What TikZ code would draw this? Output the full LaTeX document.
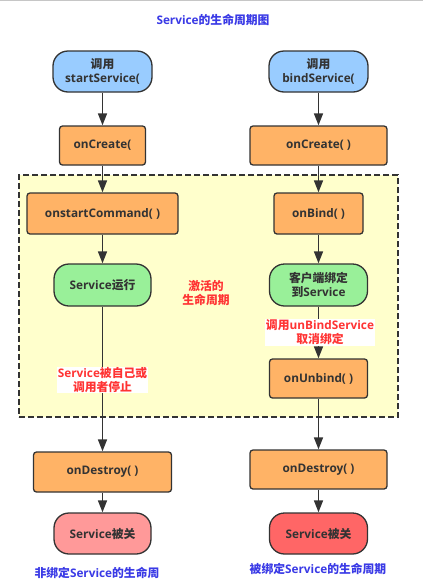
\documentclass[tikz,border=0pt]{standalone}
\usepackage{fontspec}
\setmainfont{Open Sans}[BoldFont=* Bold]
\newfontfamily\cjk{Noto Sans CJK SC Bold}
\usetikzlibrary{arrows.meta}
\definecolor{ink}{HTML}{333333}
\definecolor{blueF}{HTML}{99CCFF}
\definecolor{orangeF}{HTML}{FFB366}
\definecolor{greenF}{HTML}{99F099}
\definecolor{pinkF}{HTML}{FF9999}
\definecolor{redF}{HTML}{FF6666}
\definecolor{yellowF}{HTML}{FFFFCC}
\definecolor{redT}{HTML}{FF3333}
\definecolor{blueT}{HTML}{3A3AE6}
\newcommand\zh[1]{{\cjk #1}}
\begin{document}
\begin{tikzpicture}[x=1pt,y=-1pt,
  txt/.style={font=\bfseries\fontsize{11.8}{14.5}\selectfont, align=center, inner sep=0pt},
  box/.style={txt, draw=ink, text=ink, line width=1.3pt, rounded corners=3pt, fill=orangeF},
  pill/.style={box, rounded corners=15pt},
  conn/.style={draw=ink, line width=1.7pt, -{Triangle[length=12pt,width=9pt]}},
  redlab/.style={txt, text=redT, fill=white},
  bluelab/.style={txt, text=blueT}]
\useasboundingbox (0,0) rectangle (423,587);
\fill[white] (0,0) rectangle (423,587);
\draw[gray!45, line width=1pt] (0,0.5) -- (423,0.5);
\node[bluelab] (title) at (213,20) {Service\zh{的生命周期图}};
\node[draw=ink, fill=yellowF, line width=1.3pt, dash pattern=on 6pt off 3pt,
  minimum width=379pt, minimum height=242pt, inner sep=0pt] (active) at (208.5,296) {};
% left column
\node[pill, fill=blueF, minimum width=99pt, minimum height=41pt] (start) at (102.5,71.5) {\zh{调用}\\startService(};
\node[box, minimum width=86pt, minimum height=39pt] (onC1) at (102.5,145.5) {onCreate(};
\node[box, minimum width=151pt, minimum height=41pt] (osc) at (102.5,213.5) {onstartCommand( )};
\node[pill, fill=greenF, minimum width=97pt, minimum height=42pt] (run) at (102.5,285) {Service\zh{运行}};
\node[box, minimum width=138pt, minimum height=40pt] (onD1) at (102.5,472) {onDestroy( )};
\node[pill, fill=pinkF, minimum width=97pt, minimum height=41pt] (off1) at (102.5,533.5) {Service\zh{被关}};
% right column
\node[pill, fill=blueF, minimum width=99pt, minimum height=41pt] (bind) at (318.5,71.5) {\zh{调用}\\bindService(};
\node[box, minimum width=137pt, minimum height=39pt] (onC2) at (318.5,145.5) {onCreate( )};
\node[box, minimum width=89pt, minimum height=41pt] (onBind) at (318.5,213.5) {onBind( )};
\node[pill, fill=greenF, minimum width=98pt, minimum height=42pt] (client) at (318.5,285) {\zh{客户端绑定}\\\zh{到}Service};
\node[box, minimum width=98pt, minimum height=39pt] (unbind) at (318.5,378.5) {onUnbind( )};
\node[box, minimum width=137pt, minimum height=39pt] (onD2) at (318.5,469.5) {onDestroy( )};
\node[pill, fill=redF, minimum width=98pt, minimum height=41pt] (off2) at (318.5,533.5) {Service\zh{被关}};
% connectors
\draw[conn] (start) -- (onC1);
\draw[conn] (onC1) -- (osc);
\draw[conn] (osc) -- (run);
\draw[conn] (run) -- (onD1);
\draw[conn] (onD1) -- (off1);
\draw[conn] (bind) -- (onC2);
\draw[conn] (onC2) -- (onBind);
\draw[conn] (onBind) -- (client);
\draw[conn] (client) -- (unbind);
\draw[conn] (unbind) -- (onD2);
\draw[conn] (onD2) -- (off2);
% labels
\node[redlab, fill=none] (actlab) at (206,293) {\zh{激活的}\\\zh{生命周期}};
\node[redlab, minimum width=91pt, minimum height=26pt] (stoplab) at (102.5,380) {Service\zh{被自己或}\\\zh{调用者停止}};
\node[redlab, minimum width=110pt, minimum height=27pt] (unblab) at (320,332) {\zh{调用}unBindService\\\zh{取消绑定}};
\node[bluelab] (lleg) at (97,573) {\zh{非绑定}Service\zh{的生命周}};
\node[bluelab] (rleg) at (318,569) {\zh{被绑定}Service\zh{的生命周期}};
\end{tikzpicture}
\end{document}
